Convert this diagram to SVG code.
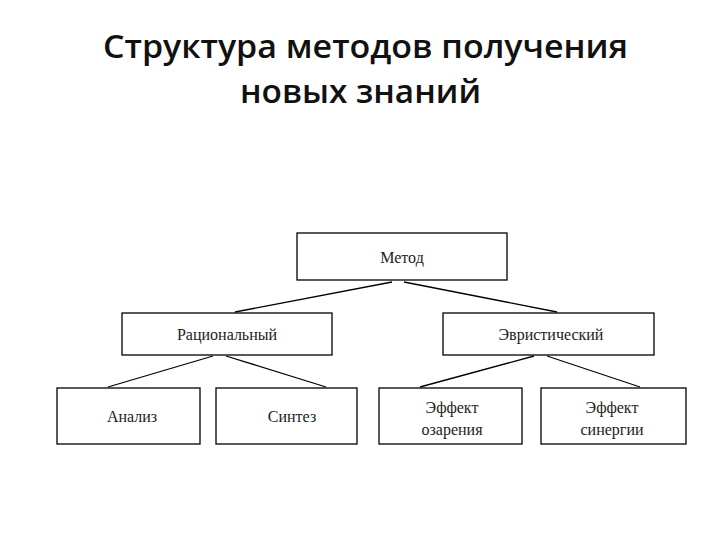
<svg xmlns="http://www.w3.org/2000/svg" width="720" height="540" viewBox="0 0 720 540">
<style>
.t{font-family:"Open Sans","Liberation Sans",sans-serif;font-size:32px;font-weight:600;fill:#111}
.b{fill:#fff;stroke:#000;stroke-width:1.3}
.l{font-family:"Liberation Serif",serif;font-size:16px;fill:#222;text-anchor:middle}
.c{stroke:#000;stroke-width:1.3;fill:none}
</style>
<rect width="720" height="540" fill="#fff"/>
<text class="t" x="103" y="58" textLength="525" lengthAdjust="spacingAndGlyphs">Структура методов получения</text>
<text class="t" x="240" y="103" textLength="241" lengthAdjust="spacingAndGlyphs">новых знаний</text>
<g id="connectors">
<line class="c" x1="392" y1="282" x2="235" y2="312"/>
<line class="c" x1="404" y1="282" x2="557" y2="312"/>
<line class="c" x1="213" y1="356" x2="108" y2="387"/>
<line class="c" x1="226" y1="356" x2="326" y2="387"/>
<line class="c" x1="534" y1="356" x2="420" y2="387"/>
<line class="c" x1="547" y1="356" x2="640" y2="387"/>
</g>
<g id="metod"><rect class="b" x="297" y="233" width="210" height="47"/><text class="l" x="402" y="263">Метод</text></g>
<g id="rational"><rect class="b" x="122" y="313" width="210" height="42"/><text class="l" x="227" y="340">Рациональный</text></g>
<g id="heuristic"><rect class="b" x="443" y="313" width="211" height="42"/><text class="l" x="551" y="340">Эвристический</text></g>
<g id="analiz"><rect class="b" x="57" y="388" width="143" height="56"/><text class="l" x="132" y="422">Анализ</text></g>
<g id="sintez"><rect class="b" x="216" y="388" width="141" height="56"/><text class="l" x="292" y="422">Синтез</text></g>
<g id="ozarenie"><rect class="b" x="379" y="388" width="143" height="56"/><text class="l" x="452" y="413">Эффект</text><text class="l" x="452" y="435">озарения</text></g>
<g id="sinergia"><rect class="b" x="541" y="388" width="145" height="56"/><text class="l" x="612" y="413">Эффект</text><text class="l" x="612" y="435">синергии</text></g>
</svg>
